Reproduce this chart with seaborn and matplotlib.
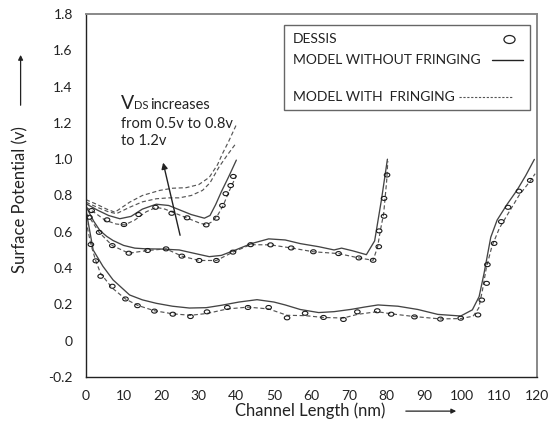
import numpy as np
import pandas as pd
import matplotlib
matplotlib.use("Agg")
import matplotlib.pyplot as plt
import seaborn as sns
from matplotlib.path import Path
from matplotlib.patches import Rectangle
from matplotlib.lines import Line2D

# ---------------- data ----------------
x_ticks = [0, 10, 20, 30, 40, 50, 60, 70, 80, 90, 100, 110, 120]
y_ticks = [-0.2, 0, 0.2, 0.4, 0.6, 0.8, 1.0, 1.2, 1.4, 1.6, 1.8]
y_tick_labels = ["-0.2", "0", "0.2", "0.4", "0.6", "0.8", "1.0", "1.2", "1.4", "1.6", "1.8"]

# L = 40 nm group
top_solid_x = [0, 3, 6, 9, 12, 15, 18.7, 22, 25, 28, 31.5, 33, 34.5, 36, 38, 40]
top_solid_y = [0.755, 0.72, 0.69, 0.672, 0.685, 0.725, 0.752, 0.745, 0.72, 0.695, 0.675, 0.69, 0.75, 0.82, 0.905, 0.995]
top_dash_x = [0, 2, 5, 8, 10.3, 13, 16, 18.7, 21, 24, 27, 30, 32, 33.5, 35, 36.5, 38, 40]
top_dash_y = [0.735, 0.71, 0.665, 0.643, 0.638, 0.665, 0.71, 0.735, 0.725, 0.70, 0.675, 0.65, 0.638, 0.655, 0.69, 0.745, 0.82, 0.91]
top_circ_x = [1.5, 5.6, 10.1, 14, 18.5, 22.8, 26.9, 32, 34.7, 36.3, 37.2, 38.5, 39.2]
top_circ_y = [0.717, 0.666, 0.64, 0.695, 0.735, 0.702, 0.677, 0.638, 0.675, 0.745, 0.81, 0.855, 0.905]
top_dash08_x = [0, 3, 6, 8.1, 11.6, 15, 18.7, 22, 24.8, 28, 31, 33, 35.4, 37.5, 40]
top_dash08_y = [0.763, 0.735, 0.71, 0.70, 0.735, 0.765, 0.782, 0.787, 0.787, 0.80, 0.828, 0.87, 0.957, 1.02, 1.09]
top_dash12_x = [0, 3, 5.5, 7.7, 11.6, 15, 19.6, 23, 26.6, 30, 32.8, 35, 36.3, 38, 40]
top_dash12_y = [0.777, 0.75, 0.725, 0.708, 0.763, 0.80, 0.828, 0.84, 0.843, 0.86, 0.90, 0.97, 1.03, 1.10, 1.19]

# L = 80 nm group
mid_solid_x = [0, 2, 3.7, 5.5, 7.2, 10, 13, 16, 20, 24.8, 28, 32.8, 36, 39.8, 44, 48.6, 53, 57, 61.9, 66, 68, 71, 74.6, 76.8, 78.6, 80.2]
mid_solid_y = [0.74, 0.66, 0.607, 0.575, 0.552, 0.525, 0.51, 0.506, 0.505, 0.50, 0.485, 0.463, 0.47, 0.50, 0.535, 0.561, 0.555, 0.535, 0.518, 0.50, 0.51, 0.495, 0.474, 0.55, 0.775, 1.0]
mid_dash_x = [0, 0.9, 3.5, 7, 11.4, 14, 16.4, 21.3, 25.5, 30.1, 34.7, 39.1, 43.8, 49.1, 54.6, 60.5, 67.2, 72.6, 76.4, 77.6, 78.3, 79.2, 80.0, 80.3]
mid_dash_y = [0.70, 0.68, 0.597, 0.524, 0.482, 0.49, 0.497, 0.506, 0.466, 0.442, 0.442, 0.488, 0.529, 0.528, 0.511, 0.49, 0.48, 0.456, 0.443, 0.518, 0.605, 0.70, 0.88, 0.99]
mid_circ_x = [0.9, 3.5, 7, 11.4, 16.4, 21.3, 25.5, 30.1, 34.7, 39.1, 43.8, 49.1, 54.6, 60.5, 67.2, 72.6, 76.4, 77.9, 78, 79.3, 79.3, 80.1]
mid_circ_y = [0.68, 0.597, 0.524, 0.482, 0.497, 0.506, 0.466, 0.442, 0.442, 0.488, 0.529, 0.528, 0.511, 0.49, 0.48, 0.456, 0.443, 0.518, 0.605, 0.686, 0.784, 0.913]

# L = 120 nm group
bot_solid_x = [0, 1.9, 4.5, 7.2, 11.6, 15, 18.7, 23, 27.5, 32, 36, 40.7, 45.5, 50, 53, 57, 61.9, 66, 70.7, 74, 77.7, 83, 88.3, 93.6, 99.7, 102.8, 104.6, 105.9, 107.7, 109.4, 112, 114.7, 117, 119.3]
bot_solid_y = [0.72, 0.50, 0.41, 0.335, 0.252, 0.225, 0.206, 0.19, 0.18, 0.182, 0.195, 0.213, 0.226, 0.213, 0.197, 0.172, 0.155, 0.16, 0.173, 0.185, 0.197, 0.19, 0.172, 0.145, 0.136, 0.17, 0.243, 0.37, 0.57, 0.665, 0.75, 0.83, 0.91, 0.999]
bot_dash_x = [0, 1.3, 2.6, 3.9, 7, 10.5, 13.7, 18.2, 23.1, 27.8, 32.2, 37.6, 43.1, 48.6, 53.5, 58.3, 63.2, 68.5, 72.2, 77.5, 81.2, 87.4, 94.3, 99.7, 103, 104.5, 105.5, 106.5, 108, 110, 112.3, 115.2, 118.2, 119.5]
bot_dash_y = [0.66, 0.53, 0.44, 0.37, 0.29, 0.23, 0.195, 0.165, 0.148, 0.14, 0.15, 0.175, 0.185, 0.175, 0.14, 0.138, 0.128, 0.125, 0.145, 0.16, 0.148, 0.133, 0.12, 0.122, 0.135, 0.18, 0.28, 0.40, 0.52, 0.62, 0.70, 0.80, 0.88, 0.92]
bot_circ_x = [1.3, 2.6, 3.9, 7, 10.5, 13.7, 18.2, 23.1, 27.8, 32.2, 37.6, 43.1, 48.6, 53.5, 58.3, 63.2, 68.5, 72.2, 77.5, 81.2, 87.4, 94.3, 99.7, 104.3, 105.3, 106.6, 106.8, 108.6, 110.5, 112.3, 115.2, 118.2]
bot_circ_y = [0.53, 0.44, 0.355, 0.30, 0.23, 0.193, 0.163, 0.146, 0.133, 0.159, 0.183, 0.183, 0.183, 0.126, 0.151, 0.128, 0.117, 0.159, 0.165, 0.146, 0.131, 0.119, 0.124, 0.142, 0.224, 0.316, 0.419, 0.536, 0.656, 0.735, 0.824, 0.883]

# ---------------- style ----------------
sns.set_style("white")
plt.rcParams['font.family'] = ['Lato', 'DejaVu Sans']

fig = plt.figure(figsize=(5.56, 4.25), dpi=100)
ax = fig.add_axes([86/556, 1 - 377/425, (537-86)/556, (377-14)/425])

solid_kw = dict(color="#444444", linewidth=0.95, sort=False, estimator=None)
dash_kw = dict(color="#555555", linewidth=0.85, sort=False, estimator=None)

ellipse = Path(Path.unit_circle().vertices * np.array([1.0, 0.72]), Path.unit_circle().codes)

def solid(xs, ys):
    sns.lineplot(x=xs, y=ys, ax=ax, **solid_kw)

def dashed(xs, ys):
    sns.lineplot(x=xs, y=ys, ax=ax, **dash_kw)
    ax.lines[-1].set_dashes((3.5, 2.2))

def circles(xs, ys):
    sns.scatterplot(x=xs, y=ys, ax=ax, marker=ellipse, s=16, facecolor="none",
                    edgecolor="#1a1a1a", linewidth=0.8, zorder=4)

solid(top_solid_x, top_solid_y)
dashed(top_dash_x, top_dash_y)
dashed(top_dash08_x, top_dash08_y)
dashed(top_dash12_x, top_dash12_y)
circles(top_circ_x, top_circ_y)

solid(mid_solid_x, mid_solid_y)
dashed(mid_dash_x, mid_dash_y)
circles(mid_circ_x, mid_circ_y)

solid(bot_solid_x, bot_solid_y)
dashed(bot_dash_x, bot_dash_y)
circles(bot_circ_x, bot_circ_y)

ax.set_xlim(0, 120)
ax.set_ylim(-0.2, 1.8)
ax.set_xticks(x_ticks)
ax.set_xticklabels([str(v) for v in x_ticks])
ax.set_yticks(y_ticks)
ax.set_yticklabels(y_tick_labels)
ax.tick_params(axis="x", direction="in", length=7, width=1, color="#222", pad=9, labelsize=10, labelcolor="#222")
ax.tick_params(axis="y", direction="inout", length=13, width=1, color="#222", pad=3, labelsize=10, labelcolor="#222")

for side in ["left", "bottom"]:
    ax.spines[side].set_color("#222")
    ax.spines[side].set_linewidth(1.0)
for side in ["top", "right"]:
    ax.spines[side].set_color("#888")
    ax.spines[side].set_linewidth(1.4)

# axis labels with arrows
ax.text(0.497, -0.094, "Channel Length (nm)", transform=ax.transAxes, ha="center", va="center",
        fontsize=12, color="#222")
ax.annotate("", xy=(0.827, -0.094), xytext=(0.703, -0.094), xycoords="axes fraction",
            textcoords="axes fraction", annotation_clip=False,
            arrowprops=dict(arrowstyle="-|>", color="#222", lw=0.9, mutation_scale=7))
ax.text(-0.145, 0.488, "Surface Potential (v)", transform=ax.transAxes, ha="center", va="center",
        rotation=90, fontsize=12, color="#222")
ax.annotate("", xy=(-0.145, 0.895), xytext=(-0.145, 0.741), xycoords="axes fraction",
            textcoords="axes fraction", annotation_clip=False,
            arrowprops=dict(arrowstyle="-|>", color="#222", lw=0.9, mutation_scale=7))

# V_DS annotation
ax.text(9.4, 1.277, "V", fontsize=14, color="#222", va="baseline", ha="left")
ax.text(12.9, 1.277, "DS", fontsize=8, color="#222", va="baseline", ha="left")
ax.text(17.0, 1.277, "increases", fontsize=10.5, color="#222", va="baseline", ha="left")
ax.text(9.4, 1.172, "from 0.5v to 0.8v", fontsize=10.5, color="#222", va="baseline", ha="left")
ax.text(9.4, 1.078, "to 1.2v", fontsize=10.5, color="#222", va="baseline", ha="left")
ax.annotate("", xy=(20.35, 0.996), xytext=(25.2, 0.566),
            arrowprops=dict(arrowstyle="-|>", color="#222", lw=1.0, mutation_scale=9))

# legend box (drawn manually: text on the left, symbol on the right)
ax.add_patch(Rectangle((0.439, 0.736), 0.545, 0.234, transform=ax.transAxes, fill=False,
                       edgecolor="#666", linewidth=1.0, zorder=5))
leg_labels = ["DESSIS", "MODEL WITHOUT FRINGING", "MODEL WITH  FRINGING"]
leg_y = [0.930, 0.873, 0.771]
for lab, yy in zip(leg_labels, leg_y):
    ax.text(0.458, yy, lab, transform=ax.transAxes, ha="left", va="center", fontsize=10, color="#222")
ax.plot([0.939], [0.930], transform=ax.transAxes, marker=ellipse, markersize=8,
        markerfacecolor="none", markeredgecolor="#222", markeredgewidth=0.9, linestyle="none")
ax.add_line(Line2D([0.90, 0.968], [0.873, 0.873], transform=ax.transAxes, color="#222", lw=1.0))
ax.add_line(Line2D([0.828, 0.947], [0.771, 0.771], transform=ax.transAxes, color="#555", lw=0.8,
                   dashes=(2, 1.5)))

fig.savefig("out.png", dpi=100)
